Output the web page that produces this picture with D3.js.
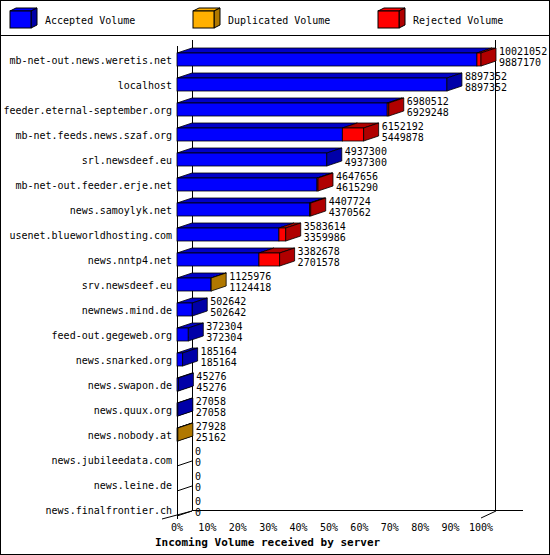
<!DOCTYPE html>
<html><head><meta charset="utf-8">
<script src="https://cdn.jsdelivr.net/npm/d3@7"></script>
<style>body{margin:0;background:#fff}text{font-family:"DejaVu Sans Mono",monospace;font-size:10px}</style>
</head><body><svg id="c" width="550" height="555"></svg>
<script>
const servers=["mb-net-out.news.weretis.net","localhost","feeder.eternal-september.org","mb-net.feeds.news.szaf.org","srl.newsdeef.eu","mb-net-out.feeder.erje.net","news.samoylyk.net","usenet.blueworldhosting.com","news.nntp4.net","srv.newsdeef.eu","newnews.mind.de","feed-out.gegeweb.org","news.snarked.org","news.swapon.de","news.quux.org","news.nobody.at","news.jubileedata.com","news.leine.de","news.finalfrontier.ch"];
const accepted=[9887170,8897352,6929248,5449878,4937300,4615290,4370562,3359986,2701578,1124418,502642,372304,185164,45276,27058,25162,0,0,0];
const duplicated=[0,0,0,0,0,0,0,0,0,1558,0,0,0,0,0,2766,0,0,0];
const rejected=[133882,0,51264,702314,0,32366,37162,223628,681100,0,0,0,0,0,0,0,0,0,0];
const totalLabels=["10021052","8897352","6980512","6152192","4937300","4647656","4407724","3583614","3382678","1125976","502642","372304","185164","45276","27058","27928","0","0","0"];
const acceptedLabels=["9887170","8897352","6929248","5449878","4937300","4615290","4370562","3359986","2701578","1124418","502642","372304","185164","45276","27058","25162","0","0","0"];
const ticks=[0,10,20,30,40,50,60,70,80,90,100];
const legend=["Accepted Volume","Duplicated Volume","Rejected Volume"];
const front=["#0000ff","#ffb000","#ff0000"], side=["#0000a8","#b07800","#b00000"];
const svg=d3.select("#c");
svg.append("rect").attr("x",0.5).attr("y",0.5).attr("width",549).attr("height",554).attr("fill","#fff").attr("stroke","#000");
svg.append("line").attr("x1",0).attr("x2",550).attr("y1",35.5).attr("y2",35.5).attr("stroke","#000");
const lx=[10,193,378];
legend.forEach((t,i)=>{const x=lx[i];
 svg.append("polygon").attr("points",`${x},11 ${x+6},8 ${x+27},8 ${x+21},11`).attr("fill",front[i]).attr("stroke","#000");
 svg.append("polygon").attr("points",`${x+21},11 ${x+27},8 ${x+27},25 ${x+21},28`).attr("fill",side[i]).attr("stroke","#000");
 svg.append("rect").attr("x",x).attr("y",11).attr("width",21).attr("height",17).attr("fill",front[i]).attr("stroke","#000");
 svg.append("text").attr("x",x+35).attr("y",24).text(t);});
const max=d3.max(servers.map((s,i)=>accepted[i]+duplicated[i]+rejected[i]));
const x=d3.scaleLinear().domain([0,max]).range([177,481]);
const xp=d3.scaleLinear().domain([0,100]).range([177,481]);
const y=d3.scaleBand().domain(servers).range([47,522]).paddingInner(0.48).paddingOuter(0.24);
const dx=15,dy=5;
const g=svg.append("g").attr("stroke","#000").attr("fill","none");
g.append("line").attr("x1",192.5).attr("x2",192.5).attr("y1",40).attr("y2",511);
g.append("line").attr("x1",495.5).attr("x2",495.5).attr("y1",40).attr("y2",511);
g.append("line").attr("x1",192).attr("x2",523).attr("y1",510.5).attr("y2",510.5);
g.append("line").attr("x1",177.5).attr("x2",177.5).attr("y1",46).attr("y2",519);
g.append("line").attr("x1",162).attr("x2",192).attr("y1",519).attr("y2",511);
g.append("line").attr("x1",481).attr("x2",496).attr("y1",518).attr("y2",511);
ticks.forEach(t=>{svg.append("text").attr("x",xp(t)).attr("y",531).attr("text-anchor","middle").text(t+"%");});
svg.append("text").attr("x",155).attr("y",546).attr("font-weight","bold").style("font-size","11px").text("Incoming Volume received by server");
servers.forEach((s,i)=>{
 const top=y(s), h=y.bandwidth();
 g.append("line").attr("x1",177).attr("y1",top+h).attr("x2",192).attr("y2",top+h-dy);
 svg.append("text").attr("x",172).attr("y",top+h/2+4).attr("text-anchor","end").text(s);
 const segs=[accepted[i],duplicated[i],rejected[i]];
 let acc=0,last=-1;
 segs.forEach((v,k)=>{ if(v>0){
   const x0=x(acc),x1=x(acc+v);
   svg.append("polygon").attr("points",`${x0},${top} ${x0+dx},${top-dy} ${x1+dx},${top-dy} ${x1},${top}`).attr("fill",k==0?"#0000c8":side[k]).attr("stroke","#000").attr("stroke-width",0.8);
   svg.append("rect").attr("x",x0).attr("y",top).attr("width",x1-x0).attr("height",h).attr("fill",front[k]).attr("stroke","#000").attr("stroke-width",0.8);
   acc+=v; last=k;}});
 const xe=x(acc);
 if(last>=0) svg.append("polygon").attr("points",`${xe},${top} ${xe+dx},${top-dy} ${xe+dx},${top+h-dy} ${xe},${top+h}`).attr("fill",side[last]).attr("stroke","#000").attr("stroke-width",0.8);
 svg.append("text").attr("x",xe+dx+3).attr("y",top+2).text(totalLabels[i]);
 svg.append("text").attr("x",xe+dx+3).attr("y",top+13).text(acceptedLabels[i]);
});
</script></body></html>
